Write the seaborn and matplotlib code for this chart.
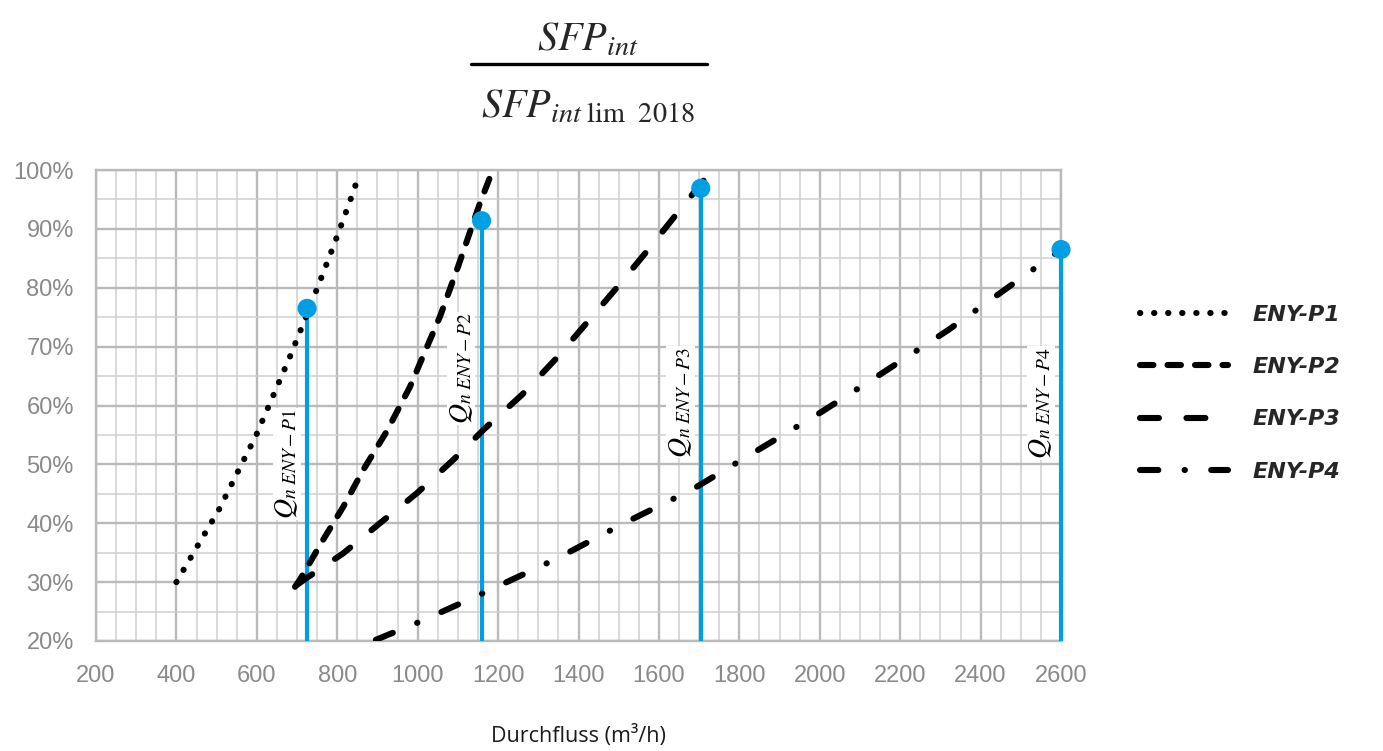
import matplotlib
matplotlib.use("Agg")
import matplotlib.pyplot as plt
from matplotlib.ticker import MultipleLocator, FuncFormatter
from matplotlib.lines import Line2D
import seaborn as sns
import pandas as pd

# ---------------- data ----------------
series_names = ["ENY-P1", "ENY-P2", "ENY-P3", "ENY-P4"]

p1_flow = [400, 453, 505, 551, 598, 639, 680, 719, 757, 794, 830, 853]
p1_sfp = [30.0, 36.2, 42.2, 48.5, 54.9, 61.4, 67.9, 74.5, 81.1, 87.7, 94.4, 98.9]

p2_flow = [695, 707, 765, 815, 865, 923, 981, 1056, 1101, 1155, 1184]
p2_sfp = [29.2, 30.4, 37.2, 42.8, 49.1, 55.6, 63.2, 75.2, 83.7, 94.4, 99.5]

p3_flow = [699, 724, 815, 906, 998, 1089, 1164, 1259, 1342, 1420, 1495, 1570, 1653, 1730]
p3_sfp = [29.5, 30.7, 34.9, 40.0, 45.1, 50.8, 55.9, 61.8, 67.8, 74.0, 80.0, 86.2, 93.3, 99.8]

p4_flow = [896, 1010, 1175, 1349, 1516, 1682, 1843, 2004, 2162, 2319, 2471, 2600]
p4_sfp = [20.2, 23.4, 28.5, 34.1, 40.1, 45.7, 52.3, 58.9, 65.8, 72.8, 80.2, 86.5]

qn_flow = [725, 1159, 1704, 2600]
qn_sfp = [76.5, 91.4, 96.9, 86.5]
qn_labels = [r"$Q_{n\ ENY-P1}$", r"$Q_{n\ ENY-P2}$", r"$Q_{n\ ENY-P3}$", r"$Q_{n\ ENY-P4}$"]

x_ticks = [200, 400, 600, 800, 1000, 1200, 1400, 1600, 1800, 2000, 2200, 2400, 2600]
y_ticks = [20, 30, 40, 50, 60, 70, 80, 90, 100]

# ---------------- build long-form table ----------------
frames = []
for name, fx, fy in zip(series_names,
                        [p1_flow, p2_flow, p3_flow, p4_flow],
                        [p1_sfp, p2_sfp, p3_sfp, p4_sfp]):
    frames.append(pd.DataFrame({"flow": fx, "sfp": fy, "series": name}))
df = pd.concat(frames, ignore_index=True)
qn_df = pd.DataFrame({"flow": qn_flow, "sfp": qn_sfp})

# ---------------- style ----------------
sns.set_style("white")
plt.rcParams["font.family"] = ["Liberation Sans", "DejaVu Sans"]
plt.rcParams["mathtext.fontset"] = "stix"

LW = 4.4
dash_map = {
    "ENY-P1": (0.05, 2.25),
    "ENY-P2": (2.2, 2.3),
    "ENY-P3": (3.1, 4.5),
    "ENY-P4": (3.0, 4.3, 0.05, 4.3),
}
BLUE = "#009FE3"

fig = plt.figure(figsize=(13.83, 7.51), dpi=100)
ax = fig.add_axes([0.0694, 0.1465, 0.6978, 0.6271])

sns.lineplot(data=df, x="flow", y="sfp", style="series", dashes=dash_map,
             color="black", linewidth=LW, sort=False, estimator=None,
             ax=ax, legend=True, zorder=3)
for ln in ax.lines:
    ln.set_dash_capstyle("round")
    ln.set_solid_capstyle("round")

# blue design-point lines and markers
ax.vlines(qn_df["flow"], 20, qn_df["sfp"], color=BLUE, linewidth=3.0,
          clip_on=False, zorder=2.7)
sns.scatterplot(data=qn_df, x="flow", y="sfp", color=BLUE, s=190,
                edgecolor="none", zorder=5, clip_on=False, ax=ax, legend=False)

# rotated labels
label_y = [50.1, 66.3, 60.6, 60.4]
for fx, ly, txt in zip(qn_flow, label_y, qn_labels):
    ax.annotate(txt, xy=(fx, ly), xytext=(-5, 0), textcoords="offset points",
                rotation=90, ha="right", va="center", fontsize=20,
                color="black", zorder=6,
                bbox=dict(facecolor="white", edgecolor="none", pad=0.5))

# axes
ax.set_xlim(200, 2600)
ax.set_ylim(20, 100)
ax.set_xticks(x_ticks)
ax.set_yticks(y_ticks)
ax.xaxis.set_minor_locator(MultipleLocator(50))
ax.yaxis.set_minor_locator(MultipleLocator(5))
ax.yaxis.set_major_formatter(FuncFormatter(lambda v, p: f"{v:.0f}%"))
ax.set_axisbelow(True)
ax.grid(which="major", color="#bababa", linewidth=1.7)
ax.grid(which="minor", color="#cfcfcf", linewidth=1.1)
ax.tick_params(which="both", length=0)
ax.tick_params(axis="x", pad=17, labelsize=17, labelcolor="#8a8a8a")
ax.tick_params(axis="y", pad=16, labelsize=17, labelcolor="#8a8a8a")
for sp in ax.spines.values():
    sp.set_color("#bababa")
    sp.set_linewidth(1.7)

ax.set_ylabel("")
ax.set_xlabel("Durchfluss (m³/h)", fontsize=15.5, color="#1a1a1a",
              fontfamily=["Open Sans", "DejaVu Sans"])
ax.xaxis.set_label_coords(0.5, -0.2017)
ax.xaxis.label.set_va("center")

# legend
old = ax.get_legend()
handles = list(old.legend_handles)
labels = [t.get_text() for t in old.get_texts()]
old.remove()
leg = ax.legend(handles, labels, loc="upper left",
                bbox_to_anchor=(0.8243, 0.594), bbox_transform=fig.transFigure,
                frameon=False, handlelength=3.96, handletextpad=1.1,
                labelspacing=1.45, borderpad=0, borderaxespad=0,
                prop=dict(family="DejaVu Sans", weight="bold", style="oblique", size=16))
for h, name in zip(leg.get_lines(), labels):
    h.set_color("black")
    h.set_linewidth(LW)
    h.set_dashes(dash_map[name])
    h.set_dash_capstyle("round")

# title fraction
fig.text(0.425, 0.947, r"$SFP_{int}$", ha="center", va="center", fontsize=29)
fig.add_artist(Line2D([0.3406, 0.5112], [0.9148, 0.9148], transform=fig.transFigure,
                      color="black", linewidth=2.4))
fig.text(0.425, 0.860, r"$SFP_{int\ \mathrm{lim}\ \ 2018}$", ha="center", va="center",
         fontsize=29)

fig.savefig("out.png", dpi=100)
